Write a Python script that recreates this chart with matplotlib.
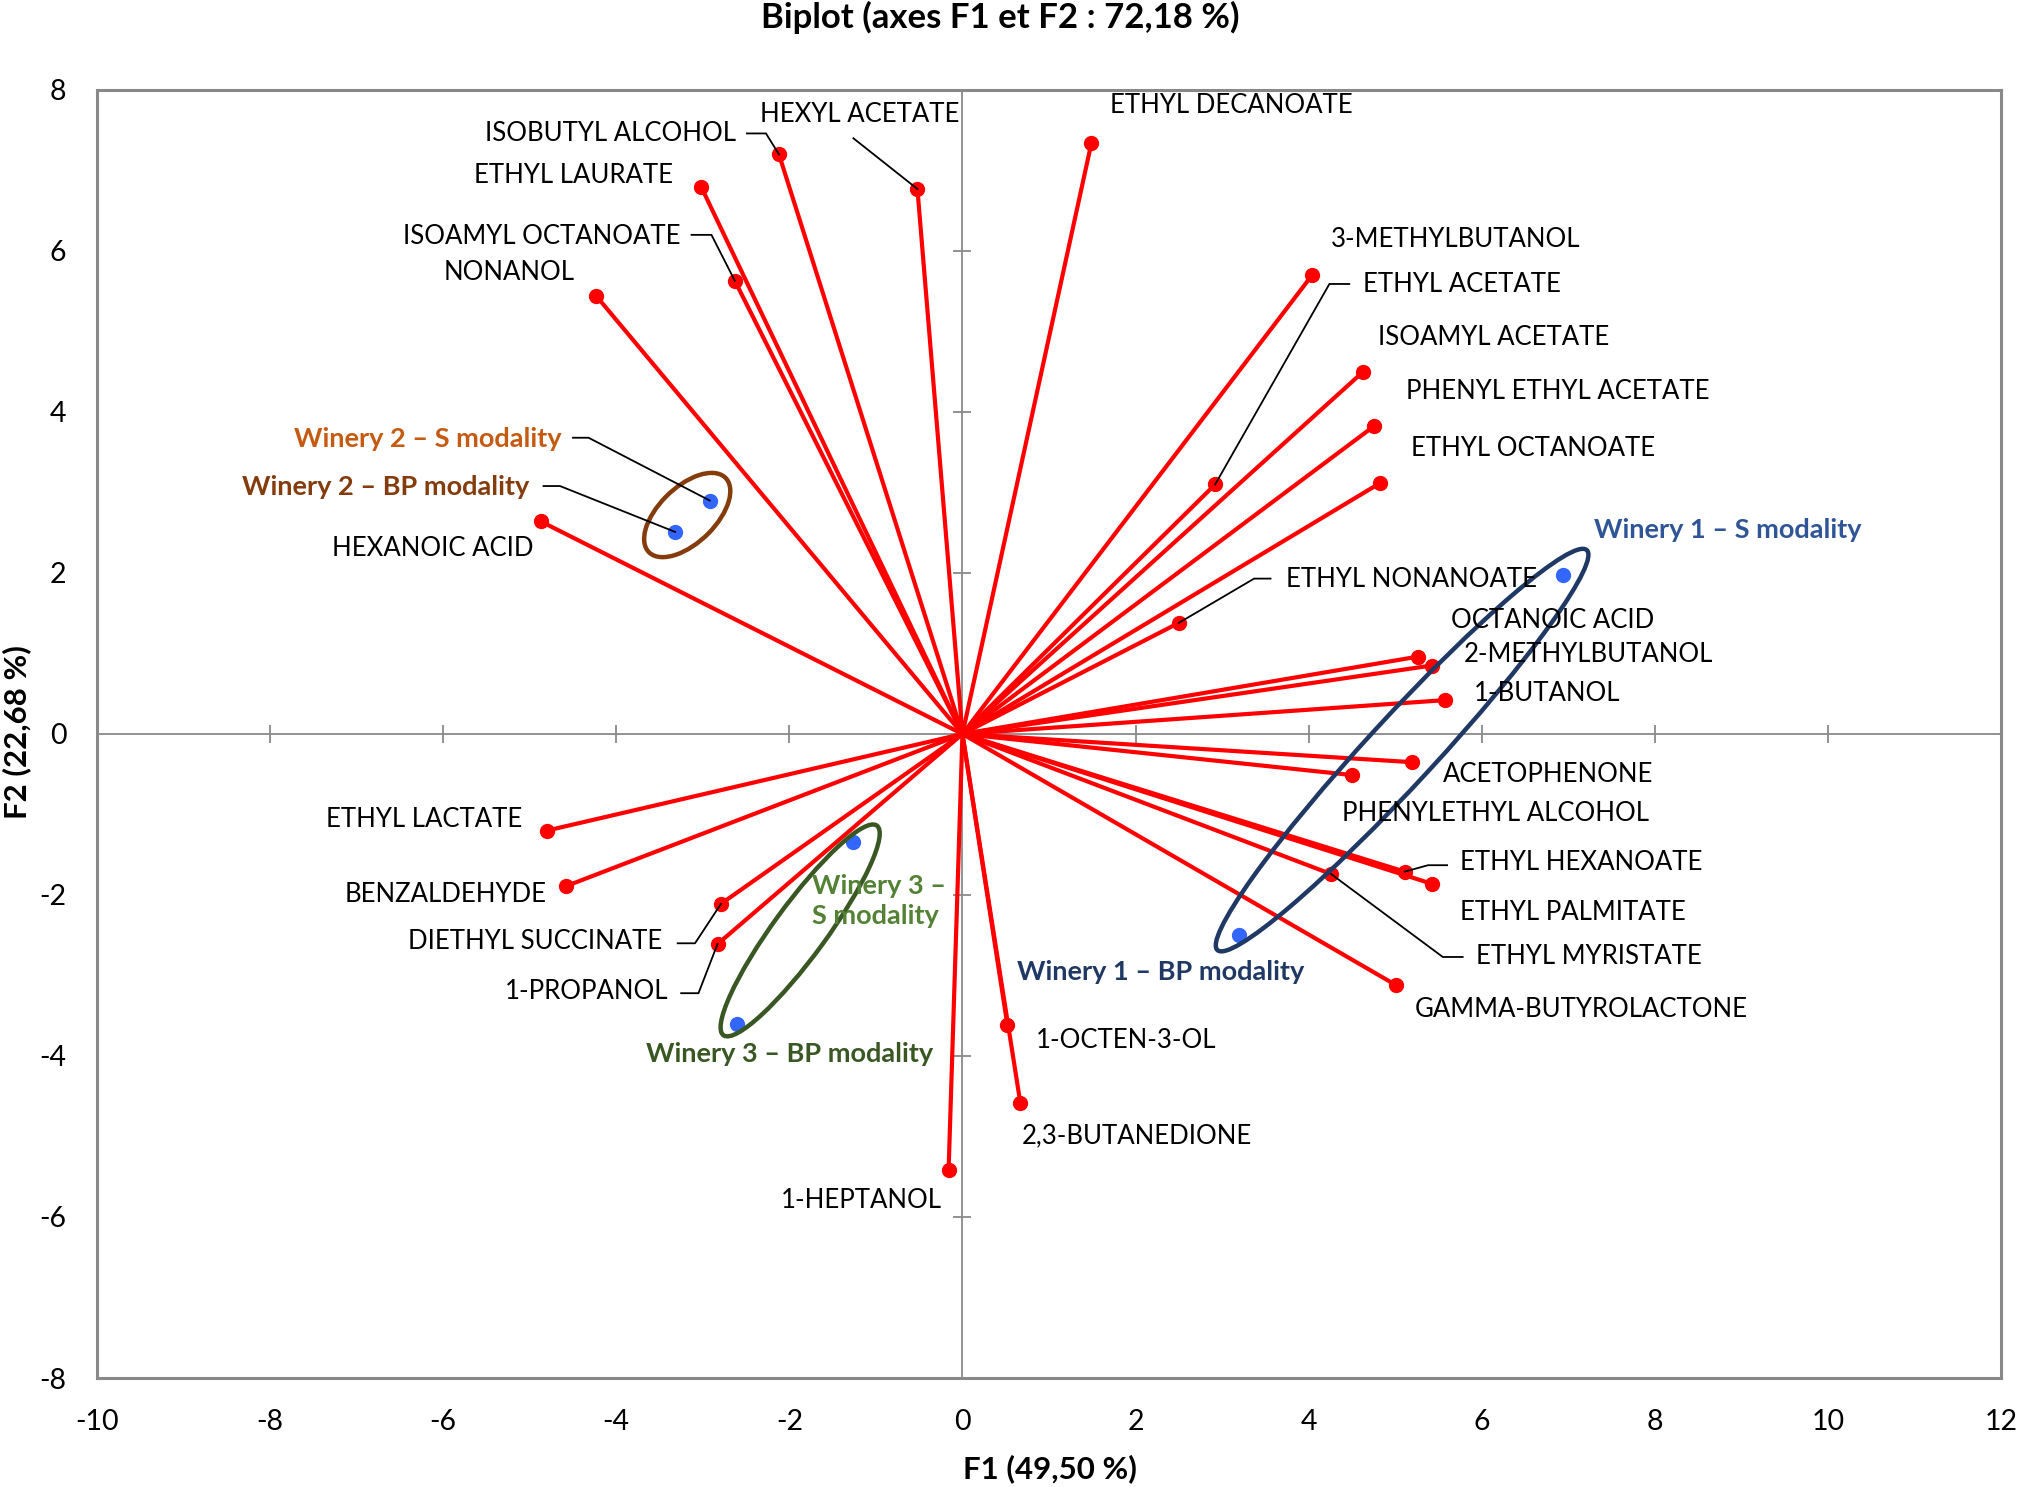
import matplotlib
matplotlib.use('Agg')
import matplotlib.pyplot as plt
from matplotlib.patches import Ellipse
import numpy as np

########################################################################################################################
## data (F1, F2)
########################################################################################################################
var_names = ['ETHYL DECANOATE', 'HEXYL ACETATE', 'ISOBUTYL ALCOHOL', 'ETHYL LAURATE', 'ISOAMYL OCTANOATE',
             'NONANOL', 'HEXANOIC ACID', '3-METHYLBUTANOL', 'ETHYL ACETATE', 'ISOAMYL ACETATE',
             'PHENYL ETHYL ACETATE', 'ETHYL OCTANOATE', 'ETHYL NONANOATE', 'OCTANOIC ACID', '2-METHYLBUTANOL',
             '1-BUTANOL', 'ACETOPHENONE', 'PHENYLETHYL ALCOHOL', 'ETHYL HEXANOATE', 'ETHYL PALMITATE',
             'ETHYL MYRISTATE', 'GAMMA-BUTYROLACTONE', '1-OCTEN-3-OL', '2,3-BUTANEDIONE', '1-HEPTANOL',
             'ETHYL LACTATE', 'BENZALDEHYDE', 'DIETHYL SUCCINATE', '1-PROPANOL']
var_f1 = [1.49, -0.52, -2.12, -3.02, -2.63, -4.23, -4.87, 4.04, 2.92, 4.63,
          4.75, 4.83, 2.50, 5.26, 5.42, 5.57, 5.19, 4.50, 5.11, 5.42,
          4.26, 5.01, 0.52, 0.67, -0.16, -4.80, -4.58, -2.79, -2.83]
var_f2 = [7.34, 6.77, 7.20, 6.80, 5.63, 5.44, 2.64, 5.70, 3.10, 4.50,
          3.82, 3.12, 1.38, 0.96, 0.85, 0.42, -0.35, -0.51, -1.71, -1.86,
          -1.74, -3.12, -3.62, -4.59, -5.42, -1.20, -1.89, -2.11, -2.61]

obs_names = ['Winery 1 \u2013 S modality', 'Winery 1 \u2013 BP modality',
             'Winery 2 \u2013 S modality', 'Winery 2 \u2013 BP modality',
             'Winery 3 \u2013\nS modality', 'Winery 3 \u2013 BP modality']
obs_f1 = [6.94, 3.20, -2.92, -3.32, -1.27, -2.61]
obs_f2 = [1.98, -2.50, 2.90, 2.51, -1.34, -3.60]
obs_colors = ['#2F5597', '#1F3864', '#C55A11', '#843C0C', '#548235', '#385723']

x_ticks = np.arange(-10, 13, 2)
y_ticks = np.arange(-8, 9, 2)

########################################################################################################################
## label layout: name -> (x, y, ha)
########################################################################################################################
var_label_pos = {
    'ETHYL DECANOATE': (1.71, 7.81, 'left'),
    'HEXYL ACETATE': (-2.34, 7.70, 'left'),
    'ISOBUTYL ALCOHOL': (-2.62, 7.46, 'right'),
    'ETHYL LAURATE': (-3.35, 6.94, 'right'),
    'ISOAMYL OCTANOATE': (-3.26, 6.18, 'right'),
    'NONANOL': (-4.48, 5.73, 'right'),
    'HEXANOIC ACID': (-4.96, 2.30, 'right'),
    '3-METHYLBUTANOL': (4.26, 6.14, 'left'),
    'ETHYL ACETATE': (4.63, 5.58, 'left'),
    'ISOAMYL ACETATE': (4.80, 4.93, 'left'),
    'PHENYL ETHYL ACETATE': (5.12, 4.26, 'left'),
    'ETHYL OCTANOATE': (5.18, 3.55, 'left'),
    'ETHYL NONANOATE': (3.74, 1.92, 'left'),
    'OCTANOIC ACID': (5.64, 1.41, 'left'),
    '2-METHYLBUTANOL': (5.79, 0.99, 'left'),
    '1-BUTANOL': (5.91, 0.50, 'left'),
    'ACETOPHENONE': (5.55, -0.50, 'left'),
    'PHENYLETHYL ALCOHOL': (4.38, -0.99, 'left'),
    'ETHYL HEXANOATE': (5.75, -1.60, 'left'),
    'ETHYL PALMITATE': (5.75, -2.22, 'left'),
    'ETHYL MYRISTATE': (5.93, -2.77, 'left'),
    'GAMMA-BUTYROLACTONE': (5.23, -3.42, 'left'),
    '1-OCTEN-3-OL': (0.85, -3.81, 'left'),
    '2,3-BUTANEDIONE': (0.69, -4.99, 'left'),
    '1-HEPTANOL': (-0.24, -5.79, 'right'),
    'ETHYL LACTATE': (-5.09, -1.06, 'right'),
    'BENZALDEHYDE': (-4.81, -2.00, 'right'),
    'DIETHYL SUCCINATE': (-3.47, -2.58, 'right'),
    '1-PROPANOL': (-3.40, -3.20, 'right'),
}
obs_label_pos = [(7.30, 2.53, 'left'), (0.63, -2.96, 'left'), (-4.63, 3.66, 'right'),
                 (-5.00, 3.07, 'right'), (-1.74, -2.07, 'left'), (-3.66, -3.97, 'left')]

# leader lines: name -> (x start, x knee, y); last segment goes to the point
var_leaders = {
    'HEXYL ACETATE': (-1.26, -1.26, 7.40),
    'ISOBUTYL ALCOHOL': (-2.49, -2.27, 7.46),
    'ISOAMYL OCTANOATE': (-3.13, -2.90, 6.20),
    'ETHYL ACETATE': (4.47, 4.24, 5.59),
    'ETHYL NONANOATE': (3.56, 3.37, 1.93),
    'ETHYL HEXANOATE': (5.60, 5.38, -1.63),
    'ETHYL MYRISTATE': (5.78, 5.55, -2.77),
    'DIETHYL SUCCINATE': (-3.29, -3.09, -2.60),
    '1-PROPANOL': (-3.25, -3.05, -3.22),
}
obs_leaders = {2: (-4.50, -4.32, 3.68), 3: (-4.84, -4.65, 3.08)}

# groups circled: (center, width, height, angle, colour)
ellipses = [((5.08, -0.20), 6.55, 0.80, 49.4, '#1F3864'),
            ((-3.18, 2.72), 1.28, 0.67, 47.5, '#843C0C'),
            ((-1.875, -2.44), 3.15, 0.62, 55.9, '#385723')]

########################################################################################################################
plt.rcParams['font.family'] = ['Lato', 'DejaVu Sans']
plt.rcParams['axes.unicode_minus'] = False
fig = plt.figure(figsize=(20.2, 14.87), dpi=100, facecolor='w')
ax = fig.add_axes([0.048, 0.0733, 0.9426, 0.8662])

ax.set_xlim(-10, 12)
ax.set_ylim(-8, 8)
ax.set_xticks(x_ticks)
ax.set_yticks(y_ticks)
ax.tick_params(length=0, labelsize=20.5, colors='#000000')
ax.tick_params(axis='x', pad=22)
ax.tick_params(axis='y', pad=22)
for s in ax.spines.values():
    s.set_color('#898989')
    s.set_linewidth(2.2)

# zero axes with cross ticks
ax.axhline(0, color='#898989', lw=1.3, zorder=1)
ax.axvline(0, color='#898989', lw=1.3, zorder=1)
ax.plot(x_ticks[1:-1], np.zeros(len(x_ticks) - 2), ls='none', marker='|', ms=13, mew=1.3, color='#898989', zorder=1)
ax.plot(np.zeros(len(y_ticks) - 2), y_ticks[1:-1], ls='none', marker='_', ms=13, mew=1.3, color='#898989', zorder=1)

for x, y in zip(var_f1, var_f2):
    ax.plot([0, x], [0, y], '-', color='#FF0000', lw=3.0, zorder=2)
ax.plot(var_f1, var_f2, 'o', color='#FF0000', ms=10, zorder=3)
ax.plot(obs_f1, obs_f2, 'o', color='#3366FF', ms=10, zorder=4)

for (c, w, h, a, col) in ellipses:
    ax.add_patch(Ellipse(c, w, h, angle=a, fill=False, ec=col, lw=3.2, zorder=5))

for i, name in enumerate(var_names):
    tx, ty, ha = var_label_pos[name]
    ax.text(tx, ty, name, ha=ha, va='center', fontsize=18.5, zorder=6)
    if name in var_leaders:
        x0, xk, yl = var_leaders[name]
        ax.plot([x0, xk, var_f1[i]], [yl, yl, var_f2[i]], '-', color='k', lw=1.3, zorder=6)

for i, name in enumerate(obs_names):
    tx, ty, ha = obs_label_pos[i]
    ax.text(tx, ty, name, ha=ha, va='center', fontsize=19.5, fontweight='bold', color=obs_colors[i],
            linespacing=1.3, zorder=6)
    if i in obs_leaders:
        x0, xk, yl = obs_leaders[i]
        ax.plot([x0, xk, obs_f1[i]], [yl, yl, obs_f2[i]], '-', color='k', lw=1.3, zorder=6)

fig.text(0.495, 0.988, 'Biplot (axes F1 et F2 : 72,18 %)', ha='center', va='center', fontsize=25, fontweight='bold')
fig.text(0.52, 0.012, 'F1 (49,50 %)', ha='center', va='center', fontsize=22.5, fontweight='bold')
fig.text(0.0085, 0.508, 'F2 (22,68 %)', ha='center', va='center', fontsize=22.5, fontweight='bold', rotation=90)

fig.savefig('out.png', dpi=100, facecolor='w')
